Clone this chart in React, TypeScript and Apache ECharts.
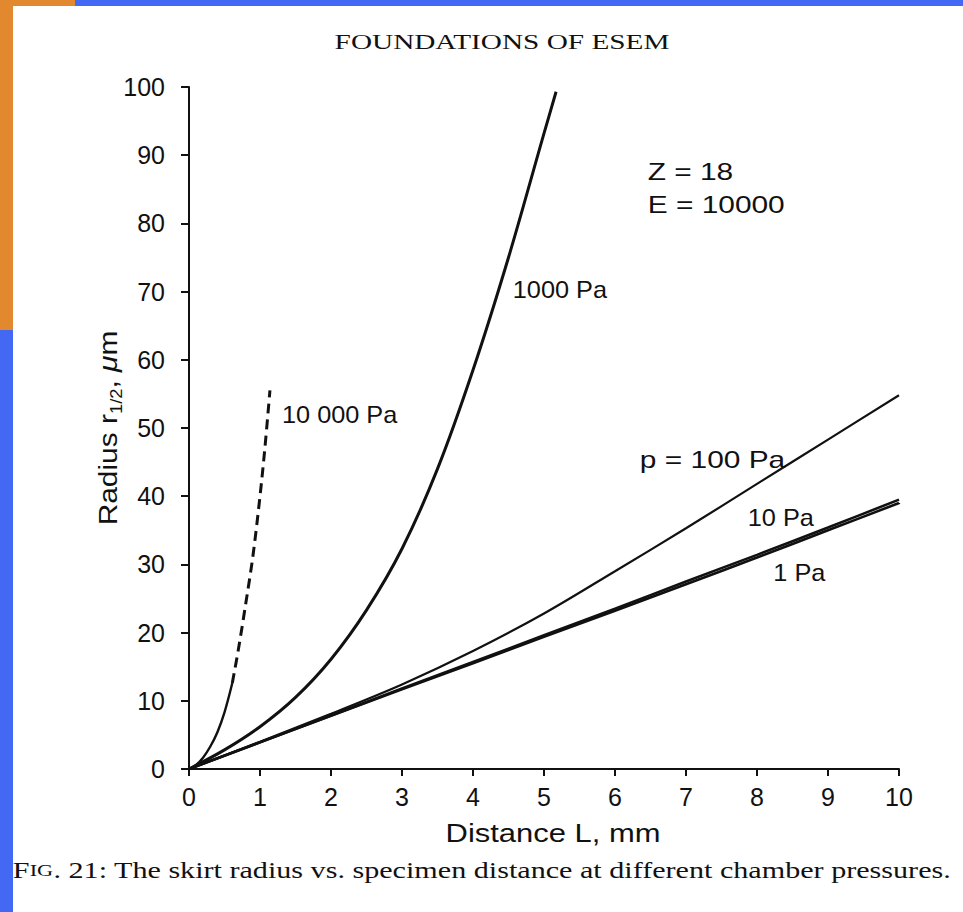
import React, { useEffect, useRef } from "react";
import * as echarts from "echarts";

// ---------- data ----------
const xTicks = [0, 1, 2, 3, 4, 5, 6, 7, 8, 9, 10];
const yTicks = [0, 10, 20, 30, 40, 50, 60, 70, 80, 90, 100];

const lowX = [0, 1, 2, 3, 4, 5, 6, 7, 8, 9, 10];
const pa1 = [0, 3.9, 7.8, 11.7, 15.5, 19.4, 23.2, 27.1, 31.0, 35.0, 39.0];
const pa10 = [0, 3.92, 7.85, 11.8, 15.7, 19.6, 23.5, 27.5, 31.4, 35.4, 39.5];
const pa100 = [0, 4.0, 8.1, 12.4, 17.3, 22.8, 29.0, 35.3, 41.8, 48.3, 54.8];

const x1000 = [0, 0.5, 1, 1.5, 2, 2.5, 3, 3.5, 4, 4.5, 5, 5.17];
const pa1000 = [0, 2.8, 6.2, 10.5, 16.1, 23.3, 32.3, 44.0, 58.5, 75.0, 93.2, 99.3];

const x10000Solid = [0, 0.1, 0.2, 0.3, 0.4, 0.5, 0.61];
const pa10000Solid = [0, 0.6, 1.7, 3.3, 5.4, 8.3, 12.6];
const x10000Dash = [0.61, 0.7, 0.8, 0.9, 1.0, 1.07, 1.14];
const pa10000Dash = [12.6, 17.8, 24.3, 31.2, 40.0, 47.2, 55.5];

// annotation texts anchored in data units (left edge, vertical middle)
const annotations = [
  { text: "Z = 18", x: 6.46, y: 87.5 },
  { text: "E = 10000", x: 6.46, y: 82.7 },
  { text: "1000 Pa", x: 4.56, y: 70.2 },
  { text: "10 000 Pa", x: 1.31, y: 51.9 },
  { text: "p = 100 Pa", x: 6.35, y: 45.2 },
  { text: "10 Pa", x: 7.87, y: 36.8 },
  { text: "1 Pa", x: 8.23, y: 28.7 },
];

const titleText = "FOUNDATIONS OF ESEM";
const xName = "Distance L, mm";

const zip = (xs: number[], ys: number[]) => xs.map((x, i) => [x, ys[i]]);

const SANS = "'Liberation Sans', Arial, Helvetica, sans-serif";
const SERIF = "'Liberation Serif', 'Times New Roman', serif";
const INK = "#111";

export default function App() {
  const ref = useRef<HTMLDivElement>(null);

  useEffect(() => {
    if (!ref.current) return;
    const chart = echarts.init(ref.current, null, { renderer: "svg" });

    const lineSeries = (name: string, data: number[][], width: number, dashed = false) => ({
      name,
      type: "line",
      data,
      smooth: 0.33,
      showSymbol: false,
      symbol: "none",
      lineStyle: {
        color: INK,
        width,
        type: dashed ? [10, 6] : "solid",
        cap: "butt",
      },
      z: 3,
    });

    const option: any = {
      animation: false,
      backgroundColor: "transparent",
      grid: { left: 189, right: 64, top: 87, bottom: 143 },
      xAxis: {
        type: "value",
        min: 0,
        max: 10,
        interval: 1,
        axisLine: { onZero: false, lineStyle: { color: INK, width: 2 } },
        axisTick: { show: true, length: 7, inside: false, lineStyle: { color: INK, width: 2 } },
        axisLabel: {
          fontFamily: SANS,
          fontSize: 25,
          color: INK,
          margin: 15,
          formatter: (v: number) => (xTicks.includes(v) ? String(v) : ""),
        },
        splitLine: { show: false },
      },
      yAxis: {
        type: "value",
        min: 0,
        max: 100,
        interval: 10,
        axisLine: { onZero: false, lineStyle: { color: INK, width: 2 } },
        axisTick: { show: true, length: 8, inside: false, lineStyle: { color: INK, width: 2 } },
        axisLabel: {
          fontFamily: SANS,
          fontSize: 25,
          color: INK,
          margin: 24,
          formatter: (v: number) => (yTicks.includes(v) ? String(v) : ""),
        },
        splitLine: { show: false },
      },
      series: [
        lineSeries("1 Pa", zip(lowX, pa1), 2.6),
        lineSeries("10 Pa", zip(lowX, pa10), 2.6),
        lineSeries("100 Pa", zip(lowX, pa100), 2.2),
        lineSeries("1000 Pa", zip(x1000, pa1000), 3),
        lineSeries("10 000 Pa", zip(x10000Solid, pa10000Solid), 2.4),
        lineSeries("10 000 Pa dashed", zip(x10000Dash, pa10000Dash), 3, true),
      ],
    };
    chart.setOption(option);

    const graphics: any[] = [
      {
        type: "text",
        x: 502,
        y: 42,
        scaleX: 1.33,
        style: {
          text: titleText,
          font: `22px ${SERIF}`,
          fill: INK,
          align: "center",
          verticalAlign: "middle",
        },
      },
      {
        type: "text",
        x: 108,
        y: 428,
        rotation: Math.PI / 2,
        scaleX: 1.15,
        style: {
          text: "{a|Radius r}{s|1/2}{a|, }{i|μ}{a|m}",
          align: "center",
          verticalAlign: "middle",
          fill: INK,
          rich: {
            a: { fontFamily: SANS, fontSize: 26, lineHeight: 32, color: INK },
            i: { fontFamily: SANS, fontSize: 26, lineHeight: 32, fontStyle: "italic", color: INK },
            s: { fontFamily: SANS, fontSize: 16, lineHeight: 32, verticalAlign: "bottom", color: INK },
          },
        },
      },
      {
        type: "text",
        x: 553,
        y: 833,
        scaleX: 1.19,
        style: {
          text: xName,
          font: `26px ${SANS}`,
          fill: INK,
          align: "center",
          verticalAlign: "middle",
        },
      },
      {
        type: "text",
        x: 482,
        y: 870,
        scaleX: 1.31,
        style: {
          text: "{a|F}{b|IG}{a|. 21: The skirt radius vs. specimen distance at different chamber pressures.}",
          align: "center",
          verticalAlign: "middle",
          fill: INK,
          rich: {
            a: { fontFamily: SERIF, fontSize: 23, color: INK },
            b: { fontFamily: SERIF, fontSize: 17, color: INK },
          },
        },
      },
    ];

    annotations.forEach((a) => {
      const p = chart.convertToPixel({ gridIndex: 0 }, [a.x, a.y]) as number[];
      const wide = a.text.includes("=");
      graphics.push({
        type: "text",
        x: p[0],
        y: p[1],
        scaleX: wide ? 1.3 : 1.1,
        style: {
          text: a.text,
          font: `23px ${SANS}`,
          fill: INK,
          align: "left",
          verticalAlign: "middle",
        },
      });
    });

    chart.setOption({ graphic: graphics });

    return () => chart.dispose();
  }, []);

  return (
    <div
      style={{
        position: "fixed",
        left: 0,
        top: 0,
        width: 963,
        height: 912,
        background: "#4268f4",
        overflow: "hidden",
      }}
    >
      <div style={{ position: "absolute", left: 0, top: 0, width: 13, height: 330, background: "#e2892f" }} />
      <div style={{ position: "absolute", left: 0, top: 0, width: 75, height: 6, background: "#e2892f" }} />
      <div style={{ position: "absolute", left: 13, top: 6, right: 0, bottom: 0, background: "#ffffff" }} />
      <div ref={ref} style={{ position: "absolute", left: 0, top: 0, width: 963, height: 912 }} />
    </div>
  );
}
